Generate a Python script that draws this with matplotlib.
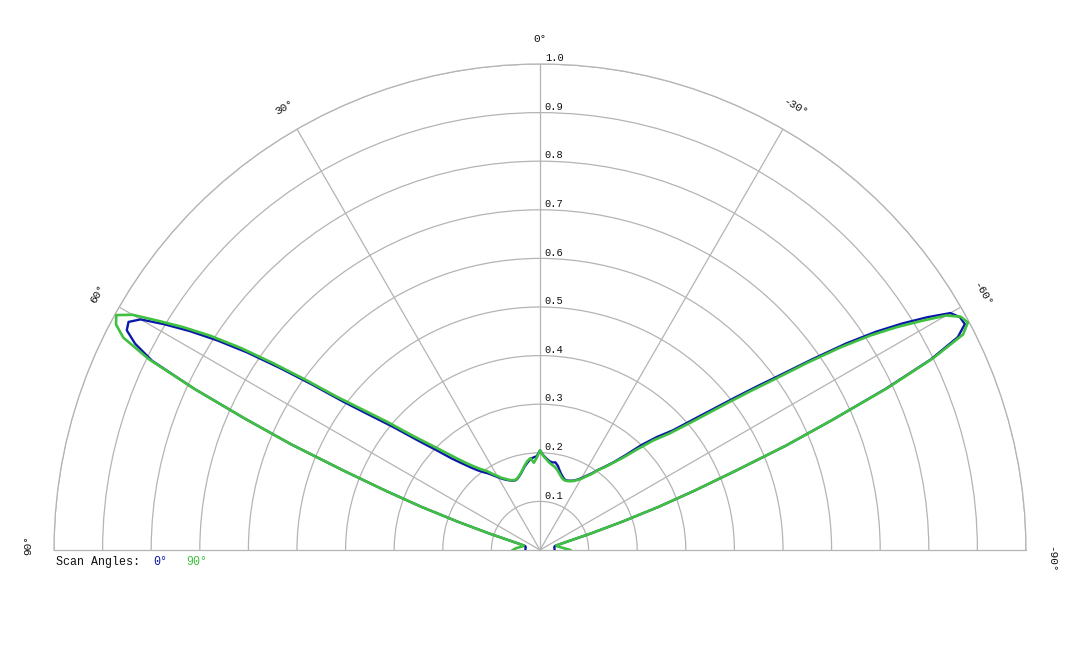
import numpy as np
import matplotlib
matplotlib.use('Agg')
import matplotlib.pyplot as plt

# angle from nadir in degrees (positive = left half of the chart)
angles = [-90, -86, -82, -78, -75, -74, -73, -72, -71, -70,
          -69, -68, -67, -66, -65, -64, -63, -62, -61, -60,
          -59, -58, -57, -56, -55, -54, -53, -52, -50, -48,
          -46, -44, -42, -40, -38, -36, -34, -32, -30, -28,
          -26, -24, -22, -20, -18, -16, -14, -12, -10, -8,
          -6, -4, -2, 0, 2, 4, 6, 8, 10, 12,
          14, 16, 18, 20, 22, 24, 26, 28, 30, 32,
          34, 36, 38, 40, 42, 44, 46, 48, 50, 52,
          53, 54, 55, 56, 57, 58, 59, 60, 61, 62,
          63, 64, 65, 66, 67, 68, 69, 70, 71, 72,
          73, 74, 75, 78, 82, 86, 90]

# scan angle 0 deg (blue)
scan_0 = [0.030, 0.030, 0.030, 0.030, 0.032, 0.038, 0.055, 0.110, 0.180, 0.260,
          0.340, 0.430, 0.550, 0.660, 0.785, 0.895, 0.965, 0.990, 0.988, 0.975,
          0.930, 0.880, 0.825, 0.760, 0.685, 0.615, 0.560, 0.510, 0.428, 0.368,
          0.335, 0.300, 0.262, 0.236, 0.218, 0.204, 0.190, 0.180, 0.171, 0.164,
          0.159, 0.156, 0.154, 0.153, 0.156, 0.161, 0.168, 0.177, 0.183, 0.182,
          0.184, 0.189, 0.195, 0.205, 0.193, 0.191, 0.188, 0.182, 0.176, 0.169,
          0.162, 0.157, 0.153, 0.152, 0.154, 0.157, 0.161, 0.166, 0.173, 0.181,
          0.190, 0.198, 0.208, 0.222, 0.240, 0.262, 0.295, 0.335, 0.393, 0.462,
          0.508, 0.578, 0.652, 0.727, 0.792, 0.850, 0.902, 0.949, 0.968, 0.963,
          0.935, 0.888, 0.785, 0.665, 0.555, 0.435, 0.340, 0.260, 0.180, 0.110,
          0.055, 0.038, 0.032, 0.030, 0.030, 0.030, 0.030]

# scan angle 90 deg (green)
scan_90 = [0.062, 0.050, 0.042, 0.036, 0.035, 0.040, 0.055, 0.110, 0.180, 0.260,
           0.340, 0.430, 0.550, 0.660, 0.790, 0.900, 0.977, 0.997, 0.990, 0.965,
           0.915, 0.865, 0.810, 0.745, 0.672, 0.600, 0.545, 0.495, 0.413, 0.358,
           0.325, 0.288, 0.256, 0.234, 0.216, 0.203, 0.188, 0.178, 0.169, 0.163,
           0.158, 0.155, 0.153, 0.152, 0.153, 0.157, 0.163, 0.169, 0.174, 0.177,
           0.181, 0.187, 0.194, 0.205, 0.190, 0.180, 0.190, 0.185, 0.178, 0.170,
           0.163, 0.158, 0.154, 0.153, 0.155, 0.158, 0.163, 0.168, 0.176, 0.185,
           0.196, 0.205, 0.217, 0.232, 0.252, 0.278, 0.310, 0.350, 0.410, 0.480,
           0.525, 0.595, 0.670, 0.745, 0.810, 0.865, 0.915, 0.968, 0.997, 0.988,
           0.962, 0.895, 0.785, 0.665, 0.555, 0.435, 0.340, 0.260, 0.180, 0.110,
           0.055, 0.040, 0.035, 0.036, 0.042, 0.050, 0.056]

ring_values = [0.1, 0.2, 0.3, 0.4, 0.5, 0.6, 0.7, 0.8, 0.9, 1.0]
spoke_angles = [-90, -60, -30, 0, 30, 60, 90]

grid_col = '#b4b4b4'
text_col = '#111111'
blue = '#0a1aa8'
green = '#40c040'
mono = 'Liberation Mono'

fig = plt.figure(figsize=(10.8, 6.48), dpi=100)
# the half wedge sits centred in a square box, so the box is 2R tall
R = 486
ax = fig.add_axes([(540 - R) / 1080, (98 - R / 2) / 648, 2 * R / 1080, 2 * R / 648],
                  projection='polar')
ax.set_theta_zero_location('N')
ax.set_theta_direction(1)
ax.set_thetamin(-90)
ax.set_thetamax(90)
ax.set_ylim(0, 1)

th = np.radians(angles)
ax.plot(th, scan_0, color=blue, lw=1.7, zorder=3)
ax.plot(th, scan_90, color=green, lw=1.9, zorder=4)

ax.set_rticks(ring_values)
ax.set_yticklabels([])
ax.set_xticks(np.radians(spoke_angles[1:-1]))
ax.set_xticklabels([])
ax.tick_params(length=0)
ax.grid(True, color=grid_col, lw=0.9)
for sp in ax.spines.values():
    sp.set_color(grid_col)
    sp.set_linewidth(0.9)

# radial labels along the 0 deg spoke
for v in ring_values:
    ax.annotate(f'{v:.1f}', xy=(0, v), xytext=(3.5, 2), textcoords='offset points',
                ha='left', va='baseline', fontsize=7.5, family=mono, color=text_col)

# angle labels round the rim (edge labels nudged like the original)
nudge = {90: -0.5, -90: -1.0}
for a in spoke_angles:
    ax.text(np.radians(a + nudge.get(a, 0)), 1.052, f'{a}°', rotation=a,
            rotation_mode='anchor', ha='center', va='center', fontsize=8,
            family=mono, color=text_col)

# legend line
y_leg = 1 - 562 / 648
fig.text(56 / 1080, y_leg, 'Scan Angles:', fontsize=8.4, family=mono,
         va='center', color=text_col)
fig.text(153 / 1080, y_leg, '0°', fontsize=8.4, family=mono, va='center', color=blue)
fig.text(186 / 1080, y_leg, '90°', fontsize=8.4, family=mono, va='center', color=green)

fig.savefig('out.png', dpi=100, facecolor='white')
